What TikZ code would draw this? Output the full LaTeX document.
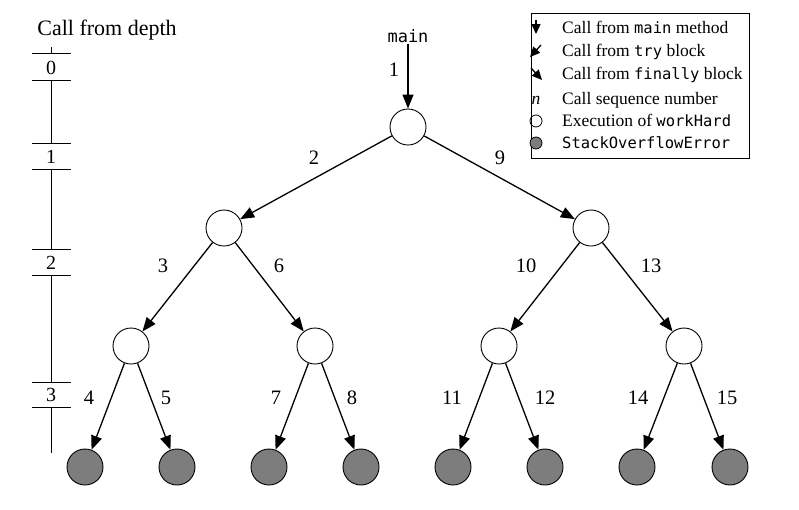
\documentclass[tikz,border=0pt]{standalone}
\usepackage{fontspec}
\setmainfont{Liberation Serif}
\newfontfamily\monof{DejaVu Sans Mono}
\usetikzlibrary{arrows.meta}
\definecolor{nodegray}{RGB}{125,125,125}
\tikzset{
  wc/.style={circle,draw,line width=0.9pt,fill=white,minimum size=36pt,inner sep=0pt},
  gc/.style={wc,fill=nodegray},
  arr/.style={line width=1.3pt,-{Triangle[length=14pt,width=11pt]}},
  lab/.style={font=\fontsize{20.5}{22}\selectfont,inner sep=0pt},
  dlab/.style={font=\fontsize{20}{22}\selectfont,inner sep=0pt,anchor=base},
  leg/.style={font=\fontsize{17.5}{19}\selectfont,inner sep=0pt,anchor=base west},
  tick/.style={line width=0.8pt},
  smallarr/.style={line width=1.3pt,-{Triangle[length=10pt,width=9pt]}}
}
\begin{document}
\begin{tikzpicture}[x=1pt,y=-1pt]
\useasboundingbox (0,0) rectangle (799,509);
% depth scale
\node[font=\fontsize{22}{24}\selectfont,anchor=base,inner sep=0pt] (title) at (107,35) {Call from depth};
\draw[tick] (51,47) -- (51,53) (51,80) -- (51,143) (51,169) -- (51,249) (51,275) -- (51,382) (51,407) -- (51,453);
\foreach \y in {53,80,143,169,249,275,382,407} \draw[tick] (32,\y) -- (71,\y);
\node[dlab] (d0) at (51,74) {0};
\node[dlab] (d1) at (51,163) {1};
\node[dlab] (d2) at (51,269) {2};
\node[dlab] (d3) at (51,401) {3};
% tree
\node[font=\monof\fontsize{17}{19}\selectfont,inner sep=1pt] (m) at (408,36) {main};
\node[wc] (r) at (408,127) {};
\node[wc] (a) at (224,228) {};
\node[wc] (b) at (591,228) {};
\node[wc] (c) at (131,346) {};
\node[wc] (d) at (315,346) {};
\node[wc] (e) at (499,346) {};
\node[wc] (f) at (684,346) {};
\node[gc] (g1) at (85,467) {};
\node[gc] (g2) at (177,467) {};
\node[gc] (g3) at (269,467) {};
\node[gc] (g4) at (361,467) {};
\node[gc] (g5) at (453,467) {};
\node[gc] (g6) at (545,467) {};
\node[gc] (g7) at (637,467) {};
\node[gc] (g8) at (730,467) {};
\draw[arr] (m) -- (r);
\draw[arr] (r) -- (a);
\draw[arr] (r) -- (b);
\draw[arr] (a) -- (c);
\draw[arr] (a) -- (d);
\draw[arr] (b) -- (e);
\draw[arr] (b) -- (f);
\draw[arr] (c) -- (g1);
\draw[arr] (c) -- (g2);
\draw[arr] (d) -- (g3);
\draw[arr] (d) -- (g4);
\draw[arr] (e) -- (g5);
\draw[arr] (e) -- (g6);
\draw[arr] (f) -- (g7);
\draw[arr] (f) -- (g8);
% labels
\node[lab] (l1) at (394,70) {1};
\node[lab] (l2) at (314,158) {2};
\node[lab] (l9) at (500,158) {9};
\node[lab] (l3) at (163,266) {3};
\node[lab] (l6) at (279,266) {6};
\node[lab] (l10) at (526,266) {10};
\node[lab] (l13) at (651,266) {13};
\node[lab] (l4) at (89,398) {4};
\node[lab] (l5) at (166,398) {5};
\node[lab] (l7) at (276,398) {7};
\node[lab] (l8) at (352,398) {8};
\node[lab] (l11) at (452,398) {11};
\node[lab] (l12) at (545,398) {12};
\node[lab] (l14) at (638,398) {14};
\node[lab] (l15) at (727,398) {15};
% legend
\draw[line width=0.8pt] (531,13) rectangle (749,158);
\coordinate (s1a) at (536,20); \coordinate (s1b) at (536,34);
\draw[smallarr] (s1a) -- (s1b);
\coordinate (s2a) at (541,45); \coordinate (s2b) at (530,57);
\draw[smallarr] (s2a) -- (s2b);
\coordinate (s3a) at (531,68); \coordinate (s3b) at (542,80);
\draw[smallarr] (s3a) -- (s3b);
\node[font=\fontsize{17.5}{19}\selectfont\itshape,inner sep=0pt,anchor=base] (sn) at (536,104) {n};
\node[circle,draw,line width=0.8pt,minimum size=12pt,inner sep=0pt] (so) at (536,121) {};
\node[circle,draw,line width=0.8pt,fill=nodegray,minimum size=12pt,inner sep=0pt] (sg) at (536,143) {};
\node[leg] (t1) at (562,33) {Call from {\monof\fontsize{15.5}{17}\selectfont main} method};
\node[leg] (t2) at (562,56) {Call from {\monof\fontsize{15.5}{17}\selectfont try} block};
\node[leg] (t3) at (562,79) {Call from {\monof\fontsize{15.5}{17}\selectfont finally} block};
\node[leg] (t4) at (562,104) {Call sequence number};
\node[leg] (t5) at (562,126) {Execution of {\monof\fontsize{15.5}{17}\selectfont workHard}};
\node[leg] (t6) at (562,148) {{\monof\fontsize{15.5}{17}\selectfont StackOverflowError}};
\end{tikzpicture}
\end{document}
